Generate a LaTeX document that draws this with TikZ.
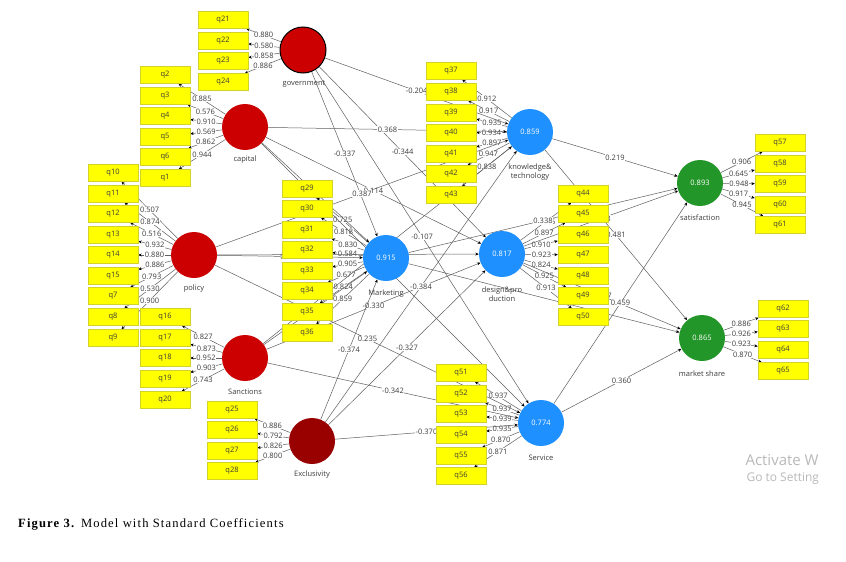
\documentclass[tikz,border=0pt]{standalone}
\usepackage{fontspec}
\setmainfont{Liberation Serif}
\newfontfamily\uifont{Open Sans}
\newfontfamily\capfont[LetterSpace=9]{Liberation Serif}
\usetikzlibrary{arrows.meta}
\pgfdeclarelayer{bg}
\pgfsetlayers{bg,main}
\definecolor{cred}{RGB}{204,0,0}
\definecolor{cdred}{RGB}{153,0,0}
\definecolor{cblue}{RGB}{30,144,255}
\definecolor{cgreen}{RGB}{34,150,40}
\definecolor{cyel}{RGB}{255,255,0}
\definecolor{cyelb}{RGB}{210,210,40}
\definecolor{cline}{RGB}{95,95,95}
\definecolor{ctext}{RGB}{60,60,60}
\definecolor{cwm}{RGB}{185,185,185}
\newcommand\loadsfrom[2]{\foreach \b/\v in {#2}{\draw[conn] (#1) -- node[coef]{\v} (\b);}}
\begin{document}
\begin{tikzpicture}[x=1pt,y=-1pt,
  ind/.style={rectangle, draw=cyelb, line width=0.4pt, fill=cyel, minimum width=50pt, minimum height=17pt, inner sep=0pt, font=\uifont\fontsize{7.5}{9}\selectfont, text=ctext},
  lv/.style={circle, minimum size=46pt, inner sep=0pt, font=\uifont\fontsize{7.5}{9}\selectfont, text=white},
  lvname/.style={font=\uifont\fontsize{7.5}{9}\selectfont, text=ctext, align=center},
  conn/.style={draw=cline, line width=0.5pt, -{Stealth[length=3.5pt,width=3pt,color=black]}},
  coef/.style={midway, fill=white, inner sep=0.5pt, font=\uifont\fontsize{7.5}{8}\selectfont, text=ctext},
  wm/.style={text=cwm, anchor=west}]
\useasboundingbox (0,0) rectangle (846,562);
\begin{pgfonlayer}{bg}
\fill[white] (0,0) rectangle (846,562);
\end{pgfonlayer}
% latent variables
\node[lv, fill=cred, draw=black, line width=1pt] (gov) at (303,50) {};
\node[lv, fill=cred] (cap) at (245,127) {};
\node[lv, fill=cred] (pol) at (194,255) {};
\node[lv, fill=cred] (san) at (245,358) {};
\node[lv, fill=cdred] (exc) at (312,441) {};
\node[lv, fill=cblue] (mkt) at (386,258) {0.915};
\node[lv, fill=cblue] (kno) at (530,132) {0.859};
\node[lv, fill=cblue] (des) at (502,254) {0.817};
\node[lv, fill=cblue] (ser) at (541,423) {0.774};
\node[lv, fill=cgreen] (sat) at (700,183) {0.893};
\node[lv, fill=cgreen] (msh) at (702,338) {0.865};
% names
\node[lvname] (ngov) at (304,84) {government};
\node[lvname] (ncap) at (245,160) {capital};
\node[lvname] (npol) at (194,289) {policy};
\node[lvname] (nsan) at (245,392) {Sanctions};
\node[lvname] (nexc) at (312,475) {Exclusivity};
\node[lvname] (nmkt) at (386,294) {Marketing};
\node[lvname] (nkno) at (530,172.5) {knowledge\&\\technology};
\node[lvname] (ndes) at (502,294) {design\&pro\\duction};
\node[lvname] (nser) at (541,458) {Service};
\node[lvname] (nsat) at (700,218) {satisfaction};
\node[lvname] (nmsh) at (702,374) {market share};
% indicators
\foreach \n/\y in {21/20,22/41,23/61,24/82} \node[ind] (q\n) at (223,\y) {q\n};
\foreach \n/\y in {2/75,3/96,4/116,5/137,6/157,1/178} \node[ind] (q\n) at (165,\y) {q\n};
\foreach \n/\y in {10/173,11/194,12/214,13/235,14/255,15/276,7/296,8/317,9/338} \node[ind] (q\n) at (113,\y) {q\n};
\foreach \n/\y in {16/317,17/338,18/358,19/379,20/400} \node[ind] (q\n) at (165,\y) {q\n};
\foreach \n/\y in {25/410,26/430,27/451,28/471} \node[ind] (q\n) at (232,\y) {q\n};
\foreach \n/\y in {29/189,30/209,31/230,32/250,33/271,34/291,35/312,36/333} \node[ind] (q\n) at (307,\y) {q\n};
\foreach \n/\y in {37/71,38/92,39/113,40/133,41/154,42/174,43/195} \node[ind] (q\n) at (451,\y) {q\n};
\foreach \n/\y in {44/194,45/214,46/235,47/255,48/276,49/296,50/317} \node[ind] (q\n) at (583,\y) {q\n};
\foreach \n/\y in {51/373,52/394,53/414,54/435,55/456,56/476} \node[ind] (q\n) at (461,\y) {q\n};
\foreach \n/\y in {57/143,58/164,59/184,60/205,61/225} \node[ind] (q\n) at (780,\y) {q\n};
\foreach \n/\y in {62/309,63/329,64/350,65/371} \node[ind] (q\n) at (783,\y) {q\n};
% connectors
\begin{pgfonlayer}{bg}
\loadsfrom{gov}{q21/0.880,q22/0.580,q23/0.858,q24/0.886}
\loadsfrom{cap}{q2/0.885,q3/0.576,q4/0.910,q5/0.569,q6/0.862,q1/0.944}
\loadsfrom{pol}{q10/0.507,q11/0.874,q12/0.516,q13/0.932,q14/0.880,q15/0.886,q7/0.793,q8/0.530,q9/0.900}
\loadsfrom{san}{q16/0.827,q17/0.873,q18/0.952,q19/0.903,q20/0.743}
\loadsfrom{exc}{q25/0.886,q26/0.792,q27/0.826,q28/0.800}
\loadsfrom{mkt}{q29/0.725,q30/0.818,q31/0.830,q32/0.584,q33/0.905,q34/0.677,q35/0.824,q36/0.859}
\loadsfrom{kno}{q37/0.912,q38/0.917,q39/0.935,q40/0.934,q41/0.897,q42/0.947,q43/0.838}
\loadsfrom{des}{q44/0.845,q45/0.897,q46/0.910,q47/0.923,q48/0.824,q49/0.925,q50/0.913}
\loadsfrom{ser}{q51/0.937,q52/0.937,q53/0.939,q54/0.935,q55/0.870,q56/0.871}
\loadsfrom{sat}{q57/0.906,q58/0.645,q59/0.948,q60/0.917,q61/0.945}
\loadsfrom{msh}{q62/0.886,q63/0.926,q64/0.923,q65/0.870}
% structural paths
\draw[conn] (gov) -- node[coef]{-0.204} (kno);
\draw[conn] (gov) -- node[coef]{-0.337} (mkt);
\draw[conn] (gov) -- node[coef]{-0.344} (des);
\draw[conn] (gov) -- node[coef]{-0.107} (ser);
\draw[conn] (cap) -- node[coef]{0.368} (kno);
\draw[conn] (cap) -- (mkt);
\draw[conn] (cap) -- node[coef]{0.114} (des);
\draw[conn] (cap) -- (ser);
\draw[conn] (pol) -- node[coef]{0.387} (kno);
\draw[conn] (pol) -- node[coef]{0.070} (mkt);
\draw[conn] (pol) -- (des);
\draw[conn] (pol) -- node[coef]{0.235} (ser);
\draw[conn] (san) -- (mkt);
\draw[conn] (san) -- (kno);
\draw[conn] (san) -- node[coef]{-0.330} (des);
\draw[conn] (san) -- node[coef]{-0.342} (ser);
\draw[conn] (exc) -- node[coef]{-0.374} (mkt);
\draw[conn] (exc) -- node[coef]{-0.384} (kno);
\draw[conn] (exc) -- node[coef]{-0.327} (des);
\draw[conn] (exc) -- node[coef]{-0.370} (ser);
\draw[conn] (kno) -- node[coef]{0.219} (sat);
\draw[conn] (kno) -- node[coef]{0.481} (msh);
\draw[conn] (des) -- node[coef]{0.108} (sat);
\draw[conn] (des) -- node[coef]{0.157} (msh);
\draw[conn] (mkt) -- node[coef]{0.338} (sat);
\draw[conn] (mkt) -- (msh);
\draw[conn] (ser) -- node[coef]{0.459} (sat);
\draw[conn] (ser) -- node[coef]{0.360} (msh);
\end{pgfonlayer}
% watermark
\begin{scope}
\clip (700,440) rectangle (818,495);
\node[wm, font=\uifont\fontsize{15}{16}\selectfont] (wm1) at (742,460) {Activate Windows};
\node[wm, font=\uifont\fontsize{12}{13}\selectfont] (wm2) at (743,479) {Go to Settings};
\end{scope}
% caption
\node[anchor=base west, inner sep=0pt, font=\capfont\fontsize{12.6}{14}\selectfont] (cap1) at (18,527) {\textbf{Figure 3.} Model with Standard Coefficients};
\end{tikzpicture}
\end{document}
